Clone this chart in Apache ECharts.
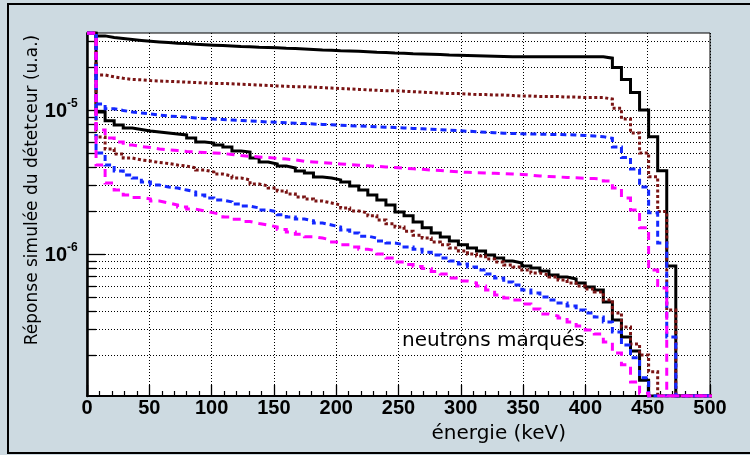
<!DOCTYPE html>
<html>
<head>
<meta charset="utf-8">
<script src="https://cdn.jsdelivr.net/npm/echarts@6/dist/echarts.min.js"></script>
<style>
  html, body { margin: 0; padding: 0; background: #cddae1; }
  #chart { width: 750px; height: 455px; }
</style>
</head>
<body>
<div id="chart"></div>
<script>
// ---- axis / binning ----
const BIN_WIDTH = 7.27;            // keV per histogram bin
const X_MIN = 0, X_MAX = 500, X_INTERVAL = 50;
const Y_MIN = 1.0325e-7, Y_MAX = 3.4244e-5;
const yGridValues = [2e-7,3e-7,4e-7,5e-7,6e-7,7e-7,8e-7,9e-7,
                     1e-6,2e-6,3e-6,4e-6,5e-6,6e-6,7e-6,8e-6,9e-6,
                     1e-5,2e-5,3e-5];
const yMajorValues = [1e-6, 1e-5];
const yLabelValues = [1e-6, 1e-5];
const yLabelExponents = ['-6', '-5'];

// ---- histogram contents (one value per bin, from 0 keV) ----
const upperBlack = [3.42e-5,3.27e-5,3.19e-5,3.14e-5,3.09e-5,3.04e-5,3.00e-5,2.97e-5,2.94e-5,2.91e-5,
  2.89e-5,2.86e-5,2.84e-5,2.82e-5,2.80e-5,2.78e-5,2.76e-5,2.75e-5,2.73e-5,2.72e-5,
  2.70e-5,2.68e-5,2.67e-5,2.65e-5,2.63e-5,2.61e-5,2.60e-5,2.58e-5,2.57e-5,2.56e-5,
  2.54e-5,2.52e-5,2.51e-5,2.49e-5,2.48e-5,2.46e-5,2.45e-5,2.44e-5,2.43e-5,2.41e-5,
  2.40e-5,2.39e-5,2.38e-5,2.37e-5,2.36e-5,2.35e-5,2.34e-5,2.34e-5,2.34e-5,2.34e-5,
  2.34e-5,2.34e-5,2.34e-5,2.34e-5,2.34e-5,2.34e-5,2.34e-5,2.29e-5,1.97e-5,1.63e-5,
  1.32e-5,1.00e-5,6.53e-6,3.79e-6,8.25e-7,0,0,0,0];
const lowerBlack = [3.42e-5,9.69e-6,8.43e-6,7.87e-6,7.50e-6,7.32e-6,7.15e-6,7.03e-6,6.92e-6,6.81e-6,
  6.71e-6,6.39e-6,6.00e-6,5.90e-6,5.71e-6,5.53e-6,5.19e-6,5.11e-6,4.64e-6,4.35e-6,
  4.22e-6,4.08e-6,3.96e-6,3.77e-6,3.65e-6,3.43e-6,3.37e-6,3.27e-6,3.16e-6,2.97e-6,
  2.78e-6,2.57e-6,2.37e-6,2.19e-6,1.96e-6,1.84e-6,1.67e-6,1.52e-6,1.40e-6,1.31e-6,
  1.23e-6,1.16e-6,1.10e-6,1.05e-6,9.84e-7,9.38e-7,8.94e-7,8.66e-7,8.25e-7,7.99e-7,
  7.62e-7,7.15e-7,6.92e-7,6.71e-7,6.29e-7,5.90e-7,5.62e-7,4.64e-7,3.48e-7,2.65e-7,
  2.12e-7,1.33e-7,0,0,0,0,0,0,0];
const upperBrown = [3.42e-5,1.75e-5,1.70e-5,1.66e-5,1.63e-5,1.62e-5,1.60e-5,1.59e-5,1.58e-5,1.57e-5,
  1.56e-5,1.55e-5,1.54e-5,1.53e-5,1.53e-5,1.52e-5,1.51e-5,1.50e-5,1.49e-5,1.48e-5,
  1.47e-5,1.46e-5,1.45e-5,1.45e-5,1.44e-5,1.43e-5,1.42e-5,1.41e-5,1.40e-5,1.39e-5,
  1.38e-5,1.37e-5,1.36e-5,1.36e-5,1.35e-5,1.34e-5,1.33e-5,1.32e-5,1.31e-5,1.30e-5,
  1.30e-5,1.29e-5,1.28e-5,1.28e-5,1.27e-5,1.27e-5,1.26e-5,1.25e-5,1.25e-5,1.24e-5,
  1.24e-5,1.24e-5,1.23e-5,1.23e-5,1.22e-5,1.22e-5,1.22e-5,1.19e-5,1.03e-5,8.66e-6,
  6.92e-6,5.03e-6,3.44e-6,1.97e-6,4.08e-7,0,0,0,0];
const lowerBrown = [3.42e-5,6.49e-6,5.36e-6,4.95e-6,4.64e-6,4.50e-6,4.42e-6,4.32e-6,4.25e-6,4.15e-6,
  4.08e-6,3.96e-6,3.83e-6,3.71e-6,3.59e-6,3.48e-6,3.37e-6,3.27e-6,3.06e-6,2.97e-6,
  2.87e-6,2.74e-6,2.61e-6,2.49e-6,2.41e-6,2.33e-6,2.26e-6,2.19e-6,2.09e-6,1.99e-6,
  1.93e-6,1.84e-6,1.72e-6,1.62e-6,1.54e-6,1.44e-6,1.35e-6,1.29e-6,1.21e-6,1.16e-6,
  1.10e-6,1.05e-6,1.00e-6,9.68e-7,9.23e-7,8.80e-7,8.39e-7,8.12e-7,7.74e-7,7.38e-7,
  7.15e-7,6.92e-7,6.60e-7,6.29e-7,6.00e-7,5.71e-7,5.45e-7,4.79e-7,3.89e-7,3.11e-7,
  2.37e-7,1.99e-7,1.52e-7,0,0,0,0,0,0];
const upperBlue = [3.42e-5,1.10e-5,1.02e-5,9.92e-6,9.69e-6,9.53e-6,9.38e-6,9.23e-6,9.08e-6,8.99e-6,
  8.90e-6,8.80e-6,8.73e-6,8.66e-6,8.59e-6,8.52e-6,8.46e-6,8.39e-6,8.32e-6,8.25e-6,
  8.20e-6,8.15e-6,8.10e-6,8.05e-6,7.99e-6,7.94e-6,7.89e-6,7.84e-6,7.79e-6,7.74e-6,
  7.69e-6,7.64e-6,7.60e-6,7.55e-6,7.50e-6,7.45e-6,7.40e-6,7.36e-6,7.30e-6,7.24e-6,
  7.18e-6,7.12e-6,7.07e-6,7.01e-6,6.96e-6,6.90e-6,6.87e-6,6.83e-6,6.81e-6,6.79e-6,
  6.77e-6,6.75e-6,6.73e-6,6.71e-6,6.65e-6,6.60e-6,6.53e-6,6.36e-6,5.53e-6,4.68e-6,
  3.89e-6,2.92e-6,1.93e-6,1.19e-6,2.65e-7,0,0,0,0];
const lowerBlue = [3.42e-5,5.03e-6,4.15e-6,3.77e-6,3.54e-6,3.37e-6,3.16e-6,3.01e-6,2.92e-6,2.87e-6,
  2.78e-6,2.70e-6,2.57e-6,2.45e-6,2.37e-6,2.30e-6,2.22e-6,2.15e-6,2.09e-6,2.02e-6,
  1.96e-6,1.87e-6,1.81e-6,1.75e-6,1.70e-6,1.64e-6,1.59e-6,1.54e-6,1.47e-6,1.40e-6,
  1.33e-6,1.29e-6,1.23e-6,1.19e-6,1.16e-6,1.12e-6,1.08e-6,1.03e-6,9.84e-7,9.38e-7,
  8.94e-7,8.52e-7,8.12e-7,7.74e-7,7.26e-7,6.81e-7,6.39e-7,6.09e-7,5.62e-7,5.36e-7,
  5.03e-7,4.79e-7,4.57e-7,4.35e-7,4.08e-7,3.89e-7,3.65e-7,3.37e-7,2.87e-7,2.33e-7,
  1.90e-7,1.38e-7,0,0,0,0,0,0,0];
const upperMagenta = [3.42e-5,7.27e-6,6.39e-6,6.00e-6,5.71e-6,5.58e-6,5.49e-6,5.36e-6,5.28e-6,5.23e-6,
  5.15e-6,5.11e-6,5.07e-6,5.03e-6,4.99e-6,4.91e-6,4.83e-6,4.77e-6,4.72e-6,4.68e-6,
  4.62e-6,4.57e-6,4.50e-6,4.40e-6,4.35e-6,4.31e-6,4.27e-6,4.22e-6,4.18e-6,4.14e-6,
  4.10e-6,4.06e-6,4.02e-6,3.98e-6,3.94e-6,3.91e-6,3.87e-6,3.83e-6,3.80e-6,3.76e-6,
  3.72e-6,3.69e-6,3.67e-6,3.65e-6,3.63e-6,3.62e-6,3.59e-6,3.57e-6,3.53e-6,3.48e-6,
  3.45e-6,3.43e-6,3.40e-6,3.38e-6,3.36e-6,3.34e-6,3.32e-6,3.21e-6,2.87e-6,2.45e-6,
  2.02e-6,1.52e-6,7.74e-7,5.81e-7,0,0,0,0,0];
const lowerMagenta = [3.42e-5,4.15e-6,3.11e-6,2.78e-6,2.57e-6,2.47e-6,2.41e-6,2.33e-6,2.26e-6,2.19e-6,
  2.12e-6,2.05e-6,1.99e-6,1.93e-6,1.87e-6,1.81e-6,1.74e-6,1.68e-6,1.63e-6,1.59e-6,
  1.54e-6,1.48e-6,1.42e-6,1.37e-6,1.32e-6,1.29e-6,1.25e-6,1.21e-6,1.16e-6,1.12e-6,
  1.08e-6,1.05e-6,1.00e-6,9.38e-7,8.80e-7,8.46e-7,8.19e-7,7.93e-7,7.56e-7,7.26e-7,
  6.81e-7,6.49e-7,6.29e-7,6.00e-7,5.62e-7,5.19e-7,4.95e-7,4.79e-7,4.50e-7,4.15e-7,
  3.83e-7,3.71e-7,3.59e-7,3.37e-7,3.16e-7,2.97e-7,2.78e-7,2.45e-7,2.05e-7,1.70e-7,
  1.29e-7,1.08e-7,0,0,0,0,0,0,0];

// ---- styles ----
const BLACK = '#000000', BROWN = '#7a1414', BLUE = '#1428ff', MAGENTA = '#ff00ff';
const curves = [
  { data: upperBlack,   color: BLACK,   type: 'solid', width: 3 },
  { data: lowerBlack,   color: BLACK,   type: 'solid', width: 3 },
  { data: upperBrown,   color: BROWN,   type: [3, 2.5], width: 3 },
  { data: lowerBrown,   color: BROWN,   type: [3, 2.5], width: 3 },
  { data: upperBlue,    color: BLUE,    type: [6, 4], width: 3 },
  { data: lowerBlue,    color: BLUE,    type: [6, 4], width: 3 },
  { data: upperMagenta, color: MAGENTA, type: [8, 6], width: 3 },
  { data: lowerMagenta, color: MAGENTA, type: [8, 6], width: 3 }
];

function histData(values) {
  const pts = values.map((v, i) => [i * BIN_WIDTH, v > 0 ? v : Y_MIN]);
  const last = values[values.length - 1];
  pts.push([values.length * BIN_WIDTH, last > 0 ? last : Y_MIN]);
  return pts;
}

const chart = echarts.init(document.getElementById('chart'), null, { renderer: 'canvas' });

const lineSeries = curves.map(c => ({
  type: 'line',
  step: 'end',
  data: histData(c.data),
  symbol: 'none',
  clip: true,
  z: 3,
  lineStyle: { color: c.color, width: c.width, type: c.type, cap: 'butt', join: 'miter' },
  animation: false,
  silent: true
}));

const gridSeries = {
  type: 'custom',
  coordinateSystem: 'cartesian2d',
  data: yGridValues.map(v => [0, v, yMajorValues.indexOf(v) >= 0 ? 1 : 0]),
  z: 1,
  silent: true,
  clip: false,
  animation: false,
  renderItem: function (params, api) {
    const cs = params.coordSys;
    const y = Math.round(api.coord([0, api.value(1)])[1]) + 0.5;
    const major = api.value(2) === 1;
    return {
      type: 'group',
      children: [
        { type: 'line', shape: { x1: cs.x, y1: y, x2: cs.x + cs.width, y2: y },
          style: { stroke: '#000', lineWidth: 1, lineDash: [1, 2] } },
        { type: 'line', shape: { x1: cs.x, y1: y, x2: cs.x + (major ? 18 : 9), y2: y },
          style: { stroke: '#000', lineWidth: 1.3 } }
      ]
    };
  }
};

const labelSeries = {
  type: 'custom',
  coordinateSystem: 'cartesian2d',
  data: yLabelValues.map((v, i) => [0, v, i]),
  z: 5,
  silent: true,
  clip: false,
  animation: false,
  renderItem: function (params, api) {
    const cs = params.coordSys;
    const y = api.coord([0, api.value(1)])[1];
    const idx = api.value(2);
    return {
      type: 'group',
      children: [
        { type: 'text', x: cs.x - 20, y: y + 1,
          style: { text: '10', font: 'bold 20px "Liberation Sans", Arial, sans-serif',
                   fill: '#000', align: 'right', verticalAlign: 'middle' } },
        { type: 'text', x: cs.x - 20, y: y - 6,
          style: { text: yLabelExponents[idx], font: 'bold 12px "Liberation Sans", Arial, sans-serif',
                   fill: '#000', align: 'left', verticalAlign: 'middle' } }
      ]
    };
  }
};

chart.setOption({
  backgroundColor: '#cddae1',
  animation: false,
  grid: { left: 87, top: 33, right: 40, bottom: 59, show: true,
          backgroundColor: '#ffffff', borderColor: '#000', borderWidth: 1 },
  xAxis: {
    type: 'value', min: X_MIN, max: X_MAX, interval: X_INTERVAL,
    axisLine: { show: true, onZero: false, lineStyle: { color: '#000', width: 2 } },
    axisTick: { show: true, inside: true, length: 11, lineStyle: { color: '#000', width: 1.3 } },
    minorTick: { show: true, splitNumber: 5, length: 5, lineStyle: { color: '#000', width: 1.2 } },
    axisLabel: { color: '#000', fontSize: 20, fontWeight: 'bold',
                 fontFamily: '"Liberation Sans", Arial, sans-serif', margin: 2,
                 showMinLabel: true, showMaxLabel: true },
    splitLine: { show: true, lineStyle: { color: '#000', width: 1, type: [1, 2] } }
  },
  yAxis: {
    type: 'log', logBase: 10, min: Y_MIN, max: Y_MAX,
    axisLine: { show: true, lineStyle: { color: '#000', width: 2.5 } },
    axisTick: { show: false },
    axisLabel: { show: false },
    splitLine: { show: false },
    minorTick: { show: false }
  },
  graphic: [
    { type: 'rect', z: 100, silent: true,
      shape: { x: 8, y: 4, width: 800, height: 449 },
      style: { fill: 'none', stroke: '#000', lineWidth: 2 } },
    { type: 'text', z: 100, silent: true, x: 33, y: 190, rotation: Math.PI / 2,
      style: { text: 'Réponse simulée du détetceur (u.a.)', font: '17px "DejaVu Sans", sans-serif',
               fill: '#000', align: 'center', verticalAlign: 'middle' } },
    { type: 'text', z: 100, silent: true, x: 566, y: 434,
      style: { text: 'énergie (keV)', font: '20px "DejaVu Sans", sans-serif',
               fill: '#000', align: 'right', verticalAlign: 'middle' } },
    { type: 'text', z: 100, silent: true, x: 402, y: 341,
      style: { text: 'neutrons marqués', font: '20px "DejaVu Sans", sans-serif',
               fill: '#000', align: 'left', verticalAlign: 'middle' } }
  ],
  series: [gridSeries].concat(lineSeries).concat([labelSeries])
});
</script>
</body>
</html>
